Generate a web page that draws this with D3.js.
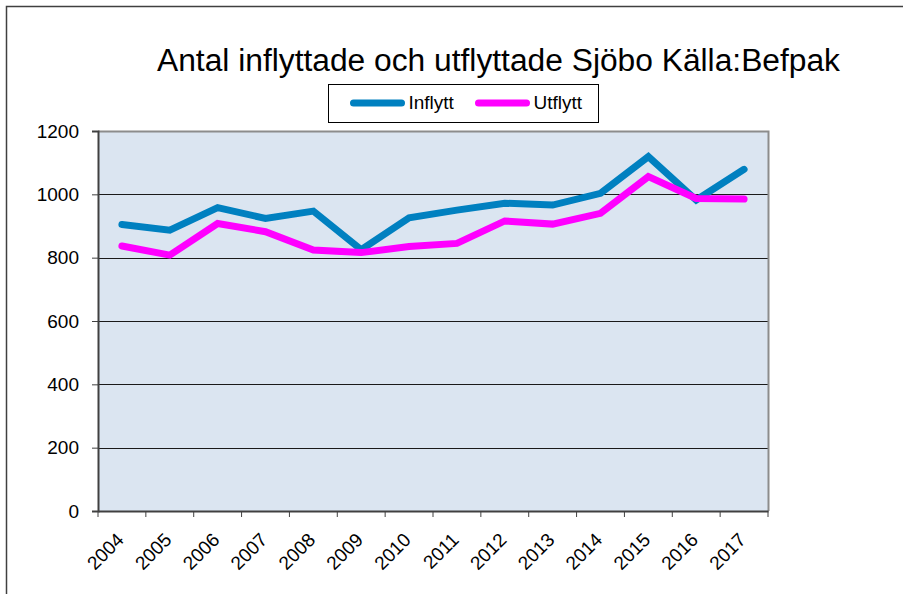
<!DOCTYPE html>
<html>
<head>
<meta charset="utf-8">
<script src="https://cdn.jsdelivr.net/npm/d3@7"></script>
<style>
  body { margin: 0; background: #fff; }
  svg { display: block; font-family: "Liberation Sans", Arial, sans-serif; }
</style>
</head>
<body>
<svg id="chart" width="903" height="594"></svg>
<script>
// data
var years = ['2004', '2005', '2006', '2007', '2008', '2009', '2010', '2011', '2012', '2013', '2014', '2015', '2016', '2017'];
var inflytt = [905, 887, 958, 924, 947, 825, 926, 950, 972, 966, 1003, 1119, 982, 1079];
var utflytt = [837, 808, 908, 882, 824, 816, 835, 845, 916, 906, 940, 1056, 987, 985];
var yTicks = [0, 200, 400, 600, 800, 1000, 1200];
var seriesNames = ['Inflytt', 'Utflytt'];
var seriesColors = ['#0080c0', '#ff00ff'];

var svg = d3.select('#chart');

// outer frame (runs off the right/bottom edge)
svg.append('path')
    .attr('d', 'M6.5,600 L6.5,6.5 L910,6.5')
    .attr('fill', 'none')
    .attr('stroke', '#404040')
    .attr('stroke-width', 1.5);

var plot = { left: 98, right: 768, top: 131, bottom: 511 };

var x = d3.scaleBand().domain(years).range([plot.left, plot.right]);
var y = d3.scaleLinear().domain([0, 1200]).range([plot.bottom, plot.top]);

svg.append('rect')
    .attr('x', plot.left).attr('y', plot.top)
    .attr('width', plot.right - plot.left).attr('height', plot.bottom - plot.top)
    .attr('fill', '#dbe5f1');

// gridlines
svg.append('g')
    .selectAll('line')
    .data(yTicks.filter((t) => t > 0 && t < 1200))
    .enter()
    .append('line')
    .attr('x1', plot.left).attr('x2', plot.right)
    .attr('y1', (d) => Math.round(y(d)) + 0.5).attr('y2', (d) => Math.round(y(d)) + 0.5)
    .attr('stroke', '#1a1a1a')
    .attr('stroke-width', 1);

// plot border (top/right grey)
svg.append('path')
    .attr('d', 'M' + plot.left + ',' + (plot.top + 0.5) + ' L' + (plot.right + 0.5) + ',' + (plot.top + 0.5) + ' L' + (plot.right + 0.5) + ',' + plot.bottom)
    .attr('fill', 'none')
    .attr('stroke', '#8c8c8c')
    .attr('stroke-width', 2);

// y axis
var yAxis = svg.append('g')
    .attr('transform', 'translate(' + plot.left + ',0)')
    .call(d3.axisLeft(y).tickValues(yTicks).tickFormat(d3.format('d')).tickSize(6).tickPadding(13));
yAxis.select('.domain').attr('stroke', '#404040').attr('stroke-width', 2);
yAxis.selectAll('.tick line').attr('stroke', '#404040');
yAxis.selectAll('.tick text')
    .attr('font-size', 19)
    .attr('font-family', '"Liberation Sans", Arial, sans-serif')
    .attr('fill', '#000');

// x axis
var xAxis = svg.append('g')
    .attr('transform', 'translate(0,' + plot.bottom + ')')
    .call(d3.axisBottom(x).tickSize(0).tickFormat(''));
xAxis.select('.domain').attr('stroke', '#404040').attr('stroke-width', 2);
svg.append('g')
    .selectAll('line')
    .data(years.concat(['end']))
    .enter()
    .append('line')
    .attr('x1', (d, i) => plot.left + i * x.step()).attr('x2', (d, i) => plot.left + i * x.step())
    .attr('y1', plot.bottom).attr('y2', plot.bottom + 6)
    .attr('stroke', '#404040');
svg.append('g')
    .selectAll('text')
    .data(years)
    .enter()
    .append('text')
    .attr('transform', (d) => 'translate(' + (x(d) + x.bandwidth() / 2 + 3) + ',' + (plot.bottom + 30) + ') rotate(-45)')
    .attr('text-anchor', 'end')
    .attr('font-size', 19)
    .text((d) => d);

// lines
var line = d3.line()
    .x((d, i) => x(years[i]) + x.bandwidth() / 2)
    .y((d) => y(d));

[inflytt, utflytt].forEach(function (s, k) {
    svg.append('path')
        .datum(s)
        .attr('d', line)
        .attr('fill', 'none')
        .attr('stroke', seriesColors[k])
        .attr('stroke-width', 7)
        .attr('stroke-linejoin', 'miter')
        .attr('stroke-linecap', 'round');
});

// title
svg.append('text')
    .attr('x', 498.5).attr('y', 71)
    .attr('text-anchor', 'middle')
    .attr('font-size', 31)
    .attr('textLength', 683)
    .attr('lengthAdjust', 'spacingAndGlyphs')
    .text('Antal inflyttade och utflyttade Sjöbo Källa:Befpak');

// legend
var legend = svg.append('g').attr('transform', 'translate(328,84)');
legend.append('rect')
    .attr('x', 0.5).attr('y', 0.5).attr('width', 270).attr('height', 38)
    .attr('fill', '#fff').attr('stroke', '#000');
seriesNames.forEach(function (name, k) {
    var lx = 25.5 + k * 125;
    legend.append('line')
        .attr('x1', lx).attr('x2', lx + 48)
        .attr('y1', 19).attr('y2', 19)
        .attr('stroke', seriesColors[k])
        .attr('stroke-width', 7)
        .attr('stroke-linecap', 'round');
    legend.append('text')
        .attr('x', lx + 55).attr('y', 25)
        .attr('font-size', 19)
        .text(name);
});
</script>
</body>
</html>
